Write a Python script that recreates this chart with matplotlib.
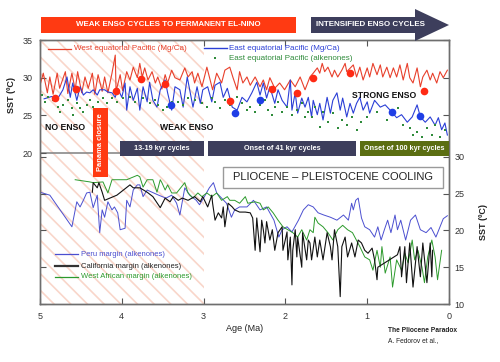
import matplotlib
matplotlib.use("Agg")
import matplotlib.pyplot as plt
from matplotlib.lines import Line2D
from matplotlib.patches import Polygon, Rectangle

plt.rcParams["font.family"] = ["Liberation Sans", "DejaVu Sans"]
plt.rcParams["hatch.linewidth"] = 1.2

# --- upper panel: equatorial Pacific SST (left axis) ---
west_age = [5.00, 4.96, 4.91, 4.88, 4.84, 4.79, 4.76, 4.69, 4.66, 4.61,
            4.57, 4.54, 4.49, 4.45, 4.41, 4.36, 4.33, 4.29, 4.24, 4.21,
            4.17, 4.12, 4.08, 4.07, 4.02, 3.99, 3.94, 3.90, 3.86, 3.81,
            3.78, 3.75, 3.72, 3.68, 3.63, 3.59, 3.56, 3.51, 3.47, 3.44,
            3.39, 3.35, 3.29, 3.23, 3.19, 3.14, 3.11, 3.07, 3.02, 2.96,
            2.92, 2.89, 2.84, 2.78, 2.74, 2.68, 2.64, 2.59, 2.56, 2.52,
            2.47, 2.43, 2.37, 2.31, 2.27, 2.23, 2.19, 2.13, 2.07, 2.01,
            1.94, 1.88, 1.82, 1.76, 1.70, 1.66, 1.61, 1.58, 1.55, 1.52,
            1.48, 1.43, 1.40, 1.36, 1.31, 1.27, 1.25, 1.17, 1.13, 1.09,
            1.05, 1.00, 0.97, 0.93, 0.88, 0.84, 0.81, 0.76, 0.72, 0.68,
            0.64, 0.60, 0.56, 0.51, 0.48, 0.44, 0.39, 0.35, 0.32, 0.27,
            0.23, 0.20, 0.15, 0.11, 0.07, 0.02]
west_sst = [29.0, 30.6, 28.0, 30.1, 27.8, 30.6, 28.6, 30.8, 27.9, 30.6,
            28.4, 30.8, 28.0, 30.1, 28.6, 30.6, 27.8, 30.4, 28.2, 30.1,
            28.0, 30.6, 33.0, 28.2, 30.4, 28.3, 30.8, 29.7, 31.4, 30.0,
            31.9, 30.1, 31.3, 29.7, 30.8, 29.3, 30.1, 28.5, 30.4, 29.3,
            31.0, 30.0, 29.7, 31.3, 30.1, 30.8, 29.3, 30.6, 28.8, 31.4,
            29.7, 28.4, 30.6, 29.3, 31.0, 31.4, 30.0, 28.4, 30.8, 29.3,
            30.1, 29.0, 30.1, 28.8, 29.7, 28.4, 30.0, 28.6, 29.3, 28.4,
            29.7, 28.8, 30.1, 28.4, 30.1, 30.6, 31.3, 30.6, 31.9, 30.8,
            31.4, 30.1, 31.0, 30.1, 31.0, 31.9, 30.8, 31.7, 30.1, 31.4,
            29.7, 31.3, 30.1, 31.9, 30.4, 31.7, 30.1, 31.4, 30.0, 31.3,
            30.1, 31.7, 29.7, 31.9, 30.0, 29.3, 31.3, 28.8, 30.1, 31.0,
            29.7, 30.6, 29.3, 30.8, 30.0, 31.0]

east_age = [4.95, 4.86,
            4.78, 4.72, 4.67, 4.63, 4.60, 4.55, 4.51, 4.47, 4.43, 4.39,
            4.35, 4.30, 4.27, 4.21, 4.17, 4.12, 4.08, 4.05, 4.00, 3.96,
            3.94, 3.90, 3.86, 3.81, 3.78, 3.74, 3.69, 3.66, 3.62, 3.57,
            3.53, 3.47, 3.44, 3.39, 3.35,
            3.29, 3.25, 3.20, 3.17, 3.13, 3.08, 3.04, 3.01, 2.95, 2.90,
            2.86, 2.80, 2.76, 2.71, 2.65, 2.59, 2.53, 2.47, 2.41, 2.35,
            2.31, 2.27, 2.23, 2.19, 2.13, 2.09, 2.04, 1.98, 1.94, 1.92,
            1.88, 1.85, 1.80, 1.76, 1.72, 1.68,
            1.66, 1.61, 1.58, 1.54, 1.49, 1.45, 1.42, 1.37, 1.33, 1.30,
            1.25, 1.21, 1.17, 1.13, 1.09, 1.05, 1.00, 0.97, 0.91, 0.84,
            0.78, 0.72, 0.64, 0.58, 0.51, 0.45, 0.39, 0.35, 0.29, 0.23,
            0.17, 0.13, 0.09, 0.05, 0.02]
east_sst = [27.2, 27.5,
            27.3, 28.4, 30.1, 27.4, 29.3, 27.0, 28.8, 27.7, 28.1, 28.0,
            28.4, 27.7, 28.4, 28.4, 28.1, 28.0, 27.4, 28.6, 27.4, 29.3,
            25.7, 28.8, 27.0, 28.6, 25.7, 28.8, 26.8, 29.4, 27.0, 26.1,
            28.4, 29.7, 28.0, 25.7, 28.8,
            28.4, 26.1, 30.1, 28.4, 26.1, 28.8, 26.6, 28.4, 28.8, 26.8,
            29.0, 29.4, 27.4, 28.6, 26.1, 25.7, 27.4, 26.8, 28.0, 29.4,
            27.7, 29.3, 27.3, 28.8, 26.6, 28.4, 27.0, 26.1, 29.7, 25.7,
            28.0, 25.3, 27.3, 26.1, 27.4, 24.8,
            27.0, 25.1, 26.6, 24.4, 27.4, 25.3, 27.0, 28.0, 25.7, 27.3,
            24.8, 26.6, 25.3, 26.6, 27.4, 25.7, 26.8, 25.3, 27.0, 26.1,
            26.4, 25.7, 24.7, 25.1, 24.1, 24.8, 26.4, 24.8, 24.1, 24.8,
            23.7, 24.7, 23.1, 24.0, 22.4]

alk_age = [4.98, 4.94, 4.90, 4.84, 4.78, 4.76, 4.72, 4.66, 4.61, 4.60,
           4.55, 4.51, 4.47, 4.43, 4.39, 4.35, 4.29, 4.23, 4.18, 4.12,
           4.06, 3.99, 3.90, 3.84, 3.74, 3.66, 3.59, 3.56, 3.50, 3.45,
           3.39, 3.31, 3.25, 3.19, 3.11, 3.02, 2.96, 2.90, 2.86, 2.80,
           2.74, 2.68, 2.59, 2.53, 2.47, 2.43, 2.37, 2.31, 2.25, 2.21,
           2.16, 2.13, 2.09, 2.04, 1.98, 1.92, 1.86, 1.80, 1.76, 1.72,
           1.68, 1.64, 1.58, 1.54, 1.48, 1.42, 1.36, 1.31, 1.25, 1.19,
           1.13, 1.07, 1.00, 0.88, 0.76, 0.62, 0.56, 0.48, 0.44, 0.39,
           0.33, 0.27, 0.21, 0.17, 0.11, 0.05]
alk_sst = [27.7, 26.8, 27.4, 27.0, 26.1, 25.5, 26.4, 27.0, 26.0, 25.1,
           26.6, 26.0, 25.5, 26.4, 27.0, 26.1, 26.8, 27.3, 26.6, 27.3,
           26.8, 27.3, 27.4, 26.8, 27.3, 26.6, 27.0, 26.4, 25.7, 26.1,
           26.8, 26.8, 26.4, 27.3, 27.0, 26.6, 26.1, 27.3, 26.8, 26.0,
           27.0, 26.4, 27.4, 26.6, 25.7, 26.1, 25.5, 26.4, 27.0, 25.7,
           25.1, 26.1, 26.8, 25.5, 26.1, 25.1, 25.7, 26.6, 24.8, 25.5,
           24.8, 26.1, 23.5, 25.5, 24.1, 25.3, 23.3, 24.4, 23.7, 24.8,
           23.1, 24.1, 24.8, 25.5, 24.4, 26.0, 23.7, 23.3, 22.4, 22.8,
           22.1, 23.3, 22.4, 23.7, 22.1, 23.1]

west_mean_age = [4.82, 4.56, 4.07, 3.77, 3.47, 2.68, 2.16, 1.86, 1.66, 1.21, 0.31]
west_mean_sst = [27.3, 28.5, 28.2, 29.8, 29.2, 26.9, 28.5, 28.0, 30.0, 30.6, 28.2]
east_mean_age = [3.40, 2.62, 2.31, 0.70, 0.35]
east_mean_sst = [26.4, 25.3, 27.0, 25.5, 24.9]

# --- lower panel: coastal upwelling SST (right axis) ---
peru_age = [5.00, 4.88, 4.61, 4.55, 4.51, 4.47, 4.43, 4.39, 4.35, 4.30,
            4.27, 4.24, 4.21, 4.17, 4.12, 4.09, 4.05, 4.02, 3.96, 3.94,
            3.90, 3.86, 3.81, 3.78, 3.74, 3.69, 3.63, 3.55, 3.46, 3.39,
            3.33, 3.29, 3.23, 3.17, 3.09, 3.05, 2.99, 2.93, 2.88, 2.84,
            2.72, 2.66, 2.62, 2.56, 2.47, 2.39, 2.31, 2.23, 2.14, 2.08,
            2.04, 1.98, 1.92, 1.84, 1.78, 1.72, 1.66, 1.60, 1.53, 1.45,
            1.37, 1.29, 1.23, 1.19, 1.17, 1.14, 1.11, 1.07, 1.03, 0.97,
            0.91, 0.87, 0.83, 0.79, 0.75, 0.71, 0.66, 0.63, 0.59, 0.53,
            0.47, 0.41, 0.35, 0.28, 0.22, 0.16, 0.07, 0.02]
peru_sst = [25.2, 24.8, 20.5, 23.9, 23.2, 24.1, 25.1, 25.2, 23.1, 24.8,
            19.7, 22.8, 21.8, 23.9, 22.8, 23.2, 22.4, 20.1, 20.3, 24.1,
            23.2, 25.5, 26.2, 26.2, 24.6, 25.5, 25.2, 24.8, 24.4, 24.8,
            23.7, 22.1, 25.8, 24.8, 24.1, 23.5, 24.6, 25.8, 26.5, 25.1,
            23.7, 21.8, 22.8, 23.2, 23.2, 24.1, 22.8, 23.2, 21.4, 19.1,
            20.1, 20.5, 19.8, 21.4, 22.8, 23.5, 23.2, 22.4, 22.1, 21.8,
            21.4, 22.1, 21.4, 23.7, 22.8, 24.1, 24.4, 21.7, 20.5, 20.1,
            19.1, 20.5, 18.7, 20.1, 21.4, 19.7, 22.1, 20.1, 21.4, 18.7,
            21.4, 22.1, 20.1, 19.7, 20.4, 19.1, 21.6, 22.0]

cali_age = [4.36, 4.35, 4.30, 4.28, 4.24, 4.21, 4.06, 3.90, 3.86, 3.78,
            3.69, 3.62, 3.53, 3.47, 3.41, 3.37, 3.31,
            3.26, 3.19, 3.11, 3.04, 3.01, 2.95, 2.90, 2.89, 2.86,
            2.82, 2.78, 2.76, 2.74, 2.70, 2.65, 2.62, 2.56, 2.49, 2.43,
            2.40, 2.37, 2.35, 2.34, 2.31, 2.29, 2.27, 2.25, 2.23, 2.19,
            2.16, 2.13, 2.09, 2.04, 2.03, 1.98, 1.97, 1.94, 1.92, 1.91,
            1.88, 1.86, 1.85, 1.80, 1.79, 1.74, 1.72,
            1.70, 1.68, 1.64, 1.61, 1.58, 1.54, 1.49, 1.45, 1.43, 1.40,
            1.36, 1.33, 1.31, 1.27, 1.24, 1.19, 1.15, 1.11, 1.07, 1.03,
            0.99, 0.94, 0.91, 0.88, 0.87, 0.63, 0.60, 0.58, 0.54, 0.52,
            0.48, 0.44, 0.39, 0.35, 0.32, 0.27, 0.23, 0.21, 0.20]
cali_sst = [25.2, 26.5, 25.8, 26.5, 25.2, 24.1, 24.8, 26.2, 25.8, 25.8,
            25.2, 24.6, 23.1, 24.4, 23.9, 24.6, 24.1,
            24.4, 24.1, 24.6, 23.9, 24.6, 23.2, 24.8, 23.7, 21.4,
            22.4, 21.7, 23.2, 20.5, 23.7, 23.2, 22.8, 22.5, 22.5, 22.4,
            21.7, 17.3, 21.7, 20.5, 17.1, 21.4, 20.1, 18.3, 21.2, 18.7,
            20.1, 17.3, 19.7, 20.5, 17.3, 19.8, 16.0, 19.1, 12.6, 17.3,
            20.1, 16.4, 19.1, 15.0, 19.7, 16.0, 18.7,
            18.3, 16.0, 19.1, 16.4, 18.7, 16.0, 19.7, 17.8, 16.0, 20.1,
            17.8, 11.0, 17.8, 19.1, 16.4, 18.3, 16.4, 18.7, 18.3, 17.3,
            16.9, 17.6, 16.0, 13.3, 15.0, 16.7, 17.8, 13.7, 17.8, 12.9,
            18.3, 12.3, 17.8, 13.7, 18.3, 12.9, 18.3, 13.7, 17.3]

wafr_age = [4.57, 4.39, 4.35, 4.23, 4.17, 4.12, 3.94, 3.81, 3.78, 3.74,
            3.69, 3.62, 3.57, 3.53, 3.51, 3.47, 3.44, 3.39, 3.33,
            3.23, 3.19, 3.13, 3.07, 3.02, 2.96, 2.90, 2.84, 2.78, 2.71,
            2.68, 2.62, 2.56, 2.49, 2.46, 2.37, 2.31, 2.27, 2.21, 2.15,
            2.09, 2.03, 1.97, 1.91, 1.85, 1.80, 1.74, 1.70,
            1.66, 1.64, 1.60, 1.54, 1.48, 1.42, 1.36, 1.30, 1.24, 1.18,
            1.09, 1.03, 0.97, 0.93, 0.88, 0.84, 0.82, 0.78, 0.72, 0.69,
            0.64, 0.58, 0.54, 0.50, 0.45, 0.42, 0.38, 0.33, 0.30, 0.26,
            0.21, 0.17, 0.14, 0.09]
wafr_sst = [26.9, 26.6, 26.5, 26.6, 25.1, 26.9, 26.9, 27.5, 27.3, 25.9,
            26.9, 26.9, 25.2, 26.9, 26.5, 25.5, 26.2, 25.1, 25.1,
            26.5, 25.1, 24.4, 25.1, 24.6, 25.1, 24.6, 25.1, 24.1, 24.6,
            24.1, 24.1, 23.7, 24.6, 23.7, 23.9, 23.7, 22.8, 23.2, 22.4,
            21.4, 20.5, 20.1, 19.7, 19.1, 20.1, 18.7, 20.1,
            19.7, 21.8, 21.0, 20.5, 19.7, 18.7, 20.1, 20.7, 20.1, 19.7,
            17.8, 16.4, 16.0, 14.6, 17.3, 15.0, 17.8, 14.2, 16.4, 12.3,
            16.0, 14.6, 16.9, 15.6, 18.7, 16.0, 17.3, 15.0, 12.9, 16.4,
            18.7, 16.4, 13.3, 17.3]

x_ticks = [5, 4, 3, 2, 1, 0]
left_ticks = [20, 25, 30, 35]
right_ticks = [10, 15, 20, 25, 30]

W, H = 500, 362
RED = "#e8402c"
BLUE = "#2b3fd6"
GREEN = "#2e8b3a"
NAVY = "#3d3e5c"
OLIVE = "#5b6e12"
BANNER_RED = "#ff3a12"


def fbox(x0, y0, x1, y1, **kw):
    """Rectangle given in figure pixels (origin top left)."""
    return Rectangle((x0 / W, 1 - y1 / H), (x1 - x0) / W, (y1 - y0) / H,
                     transform=fig.transFigure, **kw)


def ftext(x, y, s, **kw):
    fig.text(x / W, 1 - y / H, s, **kw)


def fline(x0, x1, y, **kw):
    fig.add_artist(Line2D([x0 / W, x1 / W], [1 - y / H, 1 - y / H],
                          transform=fig.transFigure, **kw))


fig = plt.figure(figsize=(5, 3.62), dpi=100)
ax = fig.add_axes([40 / W, 1 - 304 / H, 409 / W, 264 / H])
ax2 = ax.twinx()

ax.axvspan(3, 5, facecolor="white", edgecolor="#f9d6ca", hatch="\\\\",
           linewidth=0, zorder=0)
ax.axhline(20, xmin=0, xmax=0.2, color="#8a8a8a", linewidth=1.2, zorder=1)

ax.plot(west_age, west_sst, color=RED, linewidth=0.8, zorder=3)
ax.plot(east_age, east_sst, color=BLUE, linewidth=0.8, zorder=3)
ax.plot(alk_age, alk_sst, linestyle="none", marker="s", markersize=1.6,
        color=GREEN, markeredgewidth=0, zorder=4)
ax.plot(west_mean_age, west_mean_sst, linestyle="none", marker="o",
        markersize=5.5, color="#ff2a14", markeredgewidth=0, zorder=5)
ax.plot(east_mean_age, east_mean_sst, linestyle="none", marker="o",
        markersize=5.5, color="#1f3ee6", markeredgewidth=0, zorder=5)

ax2.plot(peru_age, peru_sst, color="#4b4fd0", linewidth=0.7)
ax2.plot(wafr_age, wafr_sst, color="#2c9a2c", linewidth=0.7)
ax2.plot(cali_age, cali_sst, color="#111111", linewidth=0.8)

ax.set_xlim(5, 0)
ax.set_ylim(0, 35)
ax2.set_ylim(10, 45.9)
ax.set_xticks(x_ticks)
ax.set_yticks(left_ticks)
ax2.set_yticks(right_ticks)

for a in (ax, ax2):
    for sp in a.spines.values():
        sp.set_color("#6e6e6e")
        sp.set_linewidth(1.0)
ax.tick_params(axis="x", direction="in", length=4, width=0.8, color="#555",
               labelsize=6.5, labelcolor="#333", top=True, pad=6)
ax.tick_params(axis="y", direction="in", length=4, width=0.8, color="#555",
               labelsize=6.5, labelcolor="#333", right=True, pad=5)
ax2.tick_params(axis="y", direction="in", length=4, width=0.8, color="#555",
                labelsize=6.5, labelcolor="#333", left=True, pad=4)

ax.set_xlabel("Age (Ma)", fontsize=6.5, color="#222")
ax.xaxis.set_label_coords(0.5, -0.075)
ftext(11, 95, "SST (ºC)", fontsize=6.5, fontweight="bold", rotation=90,
      ha="center", va="center", color="#222")
ftext(483, 222, "SST (ºC)", fontsize=6.5, fontweight="bold", rotation=90,
      ha="center", va="center", color="#222")

# top banners
fig.add_artist(fbox(41, 17, 296, 33, facecolor=BANNER_RED, edgecolor="none"))
ftext(168, 25, "WEAK ENSO CYCLES TO PERMANENT EL-NINO", fontsize=5.8,
      fontweight="bold", color="white", ha="center", va="center")
arrow_px = [(311, 17), (415, 17), (415, 9), (449, 25), (415, 41),
            (415, 33), (311, 33)]
fig.add_artist(Polygon([(x / W, 1 - y / H) for x, y in arrow_px],
                       closed=True, transform=fig.transFigure,
                       facecolor=NAVY, edgecolor="none"))
ftext(370, 25, "INTENSIFIED ENSO CYCLES", fontsize=5.8, fontweight="bold",
      color="white", ha="center", va="center")

# cycle boxes
fig.add_artist(fbox(120, 141, 204, 156, facecolor=NAVY, edgecolor="none"))
ftext(162, 148.5, "13-19 kyr cycles", fontsize=5.2, fontweight="bold",
      color="white", ha="center", va="center")
fig.add_artist(fbox(208, 141, 356, 156, facecolor=NAVY, edgecolor="none"))
ftext(282, 148.5, "Onset of 41 kyr cycles", fontsize=5.2, fontweight="bold",
      color="white", ha="center", va="center")
fig.add_artist(fbox(360, 141, 449, 156, facecolor=OLIVE, edgecolor="none"))
ftext(404, 148.5, "Onset of 100 kyr cycles", fontsize=5.2, fontweight="bold",
      color="white", ha="center", va="center")

# Panama closure
fig.add_artist(fbox(93, 108, 108, 177, facecolor=BANNER_RED, edgecolor="none"))
ftext(100.5, 142.5, "Panama closure", fontsize=5.4, fontweight="bold",
      color="white", ha="center", va="center", rotation=90)

# cooling box
fig.add_artist(fbox(223, 167, 443, 188, facecolor="white",
                    edgecolor="#9a9a9a", linewidth=1.0))
ftext(333, 177.5, "PLIOCENE \u2013 PLEISTOCENE COOLING", fontsize=8,
      color="#222", ha="center", va="center")

# regime labels
ftext(45, 127, "NO ENSO", fontsize=6.2, fontweight="bold", color="#111",
      va="center")
ftext(160, 127, "WEAK ENSO", fontsize=6.2, fontweight="bold", color="#111",
      va="center")
ftext(352, 96, "STRONG ENSO", fontsize=6.2, fontweight="bold", color="#111",
      va="center")

# upper legend
fline(48, 71, 49, color=RED, linewidth=0.9)
ftext(74, 49, "West equatorial Pacific (Mg/Ca)", fontsize=5.8, color=RED,
      va="center")
fline(204, 227, 48, color=BLUE, linewidth=1.0)
ftext(229, 48, "East equatorial Pacific (Mg/Ca)", fontsize=5.8, color=BLUE,
      va="center")
fig.add_artist(Line2D([215 / W], [1 - 58 / H], transform=fig.transFigure,
                      marker="s", markersize=1.8, color=GREEN,
                      markeredgewidth=0, linestyle="none"))
ftext(229, 58, "East equatorial Pacific (alkenones)", fontsize=5.8,
      color=GREEN, va="center")

# lower legend
fline(55, 78, 254, color="#4b4fd0", linewidth=0.9)
ftext(81, 254, "Peru margin (alkenones)", fontsize=5.5, color="#4b4fd0",
      va="center")
fline(55, 78, 266, color="#333333", linewidth=1.6)
ftext(81, 266, "California margin (alkenones)", fontsize=5.5, color="#222",
      va="center")
fline(55, 78, 277, color="#2c9a2c", linewidth=0.9)
ftext(81, 277, "West African margin (alkenones)", fontsize=5.5,
      color="#2c9a2c", va="center")

# credit
ftext(388, 331, "The Pliocene Paradox", fontsize=4.8, fontweight="bold",
      color="#222", va="center")
ftext(388, 341, "A. Fedorov et al.,", fontsize=4.8, color="#222",
      va="center")

fig.savefig("out.png", dpi=100)
